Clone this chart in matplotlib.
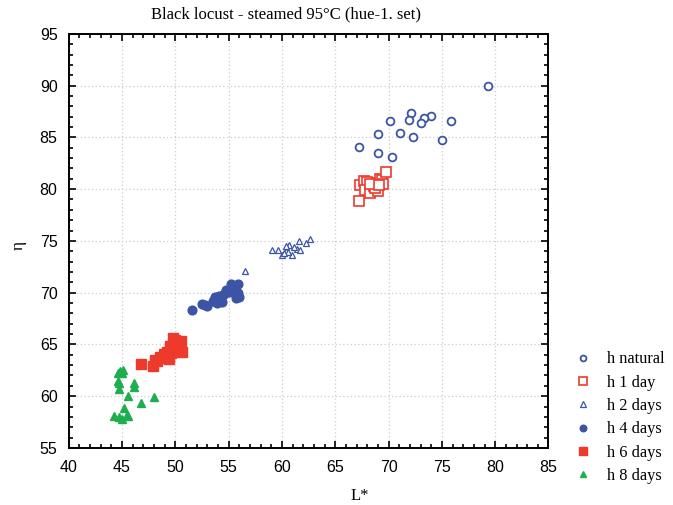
import numpy as np
import matplotlib.pyplot as plt
from matplotlib.ticker import MultipleLocator

# L*, eta  per steaming time
natural_L = [79.3, 72.1, 70.1, 71.9, 74.0, 73.3, 73.0, 75.9, 71.1, 69.0, 72.3, 75.0, 67.2, 69.0, 70.3]
natural_h = [90.0, 87.4, 86.6, 86.7, 87.1, 86.9, 86.4, 86.6, 85.4, 85.3, 85.0, 84.7, 84.1, 83.5, 83.1]

day1_L = [67.2, 67.3, 67.7, 68.0, 67.8, 68.3, 68.6, 68.9, 69.0, 69.2, 69.4, 69.5, 69.8, 68.7, 68.3, 69.1]
day1_h = [78.9, 80.4, 80.8, 80.7, 79.9, 79.6, 80.3, 80.6, 79.8, 81.0, 80.9, 80.5, 81.7, 80.1, 80.5, 80.4]

day2_L = [56.5, 59.1, 59.6, 60.0, 60.4, 60.7, 60.9, 61.4, 61.7, 61.6, 62.3, 62.6, 60.4, 60.6, 61.1, 60.2]
day2_h = [72.1, 74.1, 74.1, 73.6, 74.0, 74.6, 73.6, 74.2, 74.1, 75.0, 74.8, 75.2, 74.5, 73.9, 74.4, 73.8]

day4_L = [51.6, 52.5, 53.0, 52.8, 53.7, 53.9, 54.2, 54.5, 54.7, 55.0, 55.2, 55.9, 55.9, 56.0, 55.7,
          54.4, 53.7, 54.1, 54.8, 55.4, 53.5, 54.0]
day4_h = [68.3, 68.9, 68.7, 68.8, 69.6, 69.0, 69.3, 69.8, 70.0, 70.1, 70.8, 70.8, 70.0, 69.6, 69.5,
          69.1, 69.2, 69.7, 70.3, 70.6, 69.2, 69.5]

day6_L = [46.8, 47.9, 48.3, 48.6, 49.1, 49.2, 49.5, 50.0, 50.5, 50.6, 49.8, 50.2, 49.6, 50.4, 48.9, 49.4, 48.1]
day6_h = [63.1, 62.9, 63.4, 63.8, 63.7, 64.3, 64.8, 65.4, 65.3, 64.3, 65.6, 64.8, 64.2, 64.6, 64.1, 63.6, 63.5]

day8_L = [44.6, 44.8, 45.1, 45.0, 44.6, 44.7, 44.7, 46.1, 46.1, 45.6, 48.0, 46.8, 45.2, 45.5, 44.3, 44.7, 45.0, 45.6]
day8_h = [62.2, 62.4, 62.5, 62.2, 61.5, 61.3, 60.7, 61.3, 60.9, 60.0, 59.9, 59.3, 58.9, 58.2, 58.1, 58.0, 57.8, 58.1]

BLUE = "#3b54a5"
RED = "#ee3a2c"
GREEN = "#1fae4f"

plt.rcParams['font.family'] = 'Liberation Serif'

fig = plt.figure(figsize=(6.73, 5.05), dpi=100)
ax = fig.add_axes([0.102, 0.113, 0.713, 0.820])

ax.plot(natural_L, natural_h, 'o', ms=5.6, mfc='white', mec=BLUE, mew=1.3, ls='none', label='h natural')
ax.plot(day1_L, day1_h, 's', ms=6.8, mfc='white', mec=RED, mew=1.2, ls='none', label='h 1 day')
ax.plot(day2_L, day2_h, '^', ms=5, mfc='white', mec=BLUE, mew=0.9, ls='none', label='h 2 days')
ax.plot(day4_L, day4_h, 'o', ms=6.3, color=BLUE, ls='none', label='h 4 days')
ax.plot(day6_L, day6_h, 's', ms=7, color=RED, ls='none', label='h 6 days')
ax.plot(day8_L, day8_h, '^', ms=5.5, color=GREEN, ls='none', label='h 8 days')

ax.set_xlim(40, 85)
ax.set_ylim(55, 95)
ax.xaxis.set_major_locator(MultipleLocator(5))
ax.xaxis.set_minor_locator(MultipleLocator(1))
ax.yaxis.set_major_locator(MultipleLocator(5))
ax.yaxis.set_minor_locator(MultipleLocator(1))
ax.tick_params(which='both', direction='in', top=True, right=True, width=1.2)
ax.tick_params(which='major', length=5, labelsize=11.5)
ax.tick_params(axis='x', which='major', pad=9)
ax.tick_params(axis='y', which='major', pad=8)
ax.tick_params(which='minor', length=3)
for lab in ax.get_xticklabels() + ax.get_yticklabels():
    lab.set_family('Liberation Sans')
for s in ax.spines.values():
    s.set_linewidth(1.4)
ax.grid(True, which='major', ls=(0, (1, 2)), color='#cccccc', lw=0.9)

fig.text(0.425, 0.972, "Black locust - steamed 95°C (hue-1. set)", fontsize=12, ha='center', va='center')
ax.set_xlabel("L*", fontsize=12, va='center')
ax.xaxis.set_label_coords((360 - 68.5) / 480, -0.115)
ax.set_ylabel("η", fontsize=12.5, va='center')
ax.yaxis.set_label_coords(-0.105, 0.49)

fig.legend(loc='lower left', bbox_to_anchor=(0.832, 0.012), frameon=False, fontsize=11.8,
           handletextpad=0.95, labelspacing=0.45, handlelength=1.0, markerscale=0.75)

plt.savefig("out.png", dpi=100)
